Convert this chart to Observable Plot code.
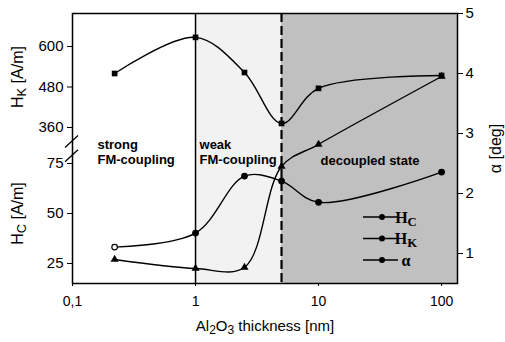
<!DOCTYPE html>
<html><head><meta charset="utf-8">
<script src="https://cdn.jsdelivr.net/npm/d3@7"></script>
<script src="https://cdn.jsdelivr.net/npm/@observablehq/plot@0.6"></script>
<style>
html,body{margin:0;padding:0;background:#fff;}
#chart svg{display:block;}
</style></head><body><div id="chart"></div>
<script>
// ---- data ----
const thickness = [0.22, 1, 2.5, 5, 10, 100];          // Al2O3 thickness [nm]
const hk = [520, 627, 523, 372, 476, 514];              // H_K [A/m]
const hc = [33.2, 40.2, 68.7, 66.2, 55.6, 70.7];        // H_C [A/m]
const alpha = [0.9, 0.75, 0.77, 2.45, 2.82, 3.95];      // α [deg]
const hkTicks = [360, 480, 600];
const hcTicks = [25, 50, 75];
const alphaTicks = [1, 2, 3, 4, 5];
const xTicks = [0.1, 1, 10, 100];
const xTickLabels = ["0,1", "1", "10", "100"];
const regionBounds = [0.1, 1, 5, 134.7];
const regionLabels = ["strong\nFM-coupling", "weak\nFM-coupling", "decoupled state"];
const legendLabels = ["H_C", "H_K", "α"];

// broken left axis: map H_K and H_C onto the α (right) axis scale
const hkPos = d3.scaleLinear([360, 600], [3.1, 4.45]);
const hcPos = d3.scaleLinear([25, 75], [0.833, 2.5]);

const rows = thickness.map((t, i) => ({t, hk: hk[i], hc: hc[i], alpha: alpha[i], i}));
const regions = regionLabels.map((label, i) => ({from: regionBounds[i], to: regionBounds[i + 1], label}));

const lineStyle = {stroke: "#000", strokeWidth: 1.4, curve: "catmull-rom"};
const textFont = {fontFamily: "Arial, 'Liberation Sans', sans-serif", fontWeight: "bold", fontSize: 13, fill: "#000"};

const plot = Plot.plot({
  width: 505, height: 342,
  marginLeft: 72, marginRight: 48, marginTop: 13, marginBottom: 59,
  style: {fontFamily: "Arial, 'Liberation Sans', sans-serif", fontSize: "14px", color: "#000", background: "#fff", overflow: "visible"},
  x: {type: "log", domain: [regionBounds[0], regionBounds[3]], axis: null},
  y: {domain: [0.5, 5], axis: null},
  marks: [
    Plot.rect([regions[1]], {x1: "from", x2: "to", fill: "#f2f2f2"}),
    Plot.rect([regions[2]], {x1: "from", x2: "to", fill: "#c0c0c0"}),
    Plot.ruleX([regionBounds[1]], {stroke: "#000", strokeWidth: 1.5}),
    Plot.ruleX([regionBounds[2]], {stroke: "#000", strokeWidth: 2.2, strokeDasharray: "9,4"}),
    // region labels
    Plot.text([regions[0]], {x: "from", text: "label", frameAnchor: "top", textAnchor: "start", lineAnchor: "middle", lineHeight: 1.2, dx: 25, dy: 138, ...textFont}),
    Plot.text([regions[1]], {x: "from", text: "label", frameAnchor: "top", textAnchor: "start", lineAnchor: "middle", lineHeight: 1.2, dx: 4, dy: 138, ...textFont}),
    Plot.text([regions[2]], {x: "from", text: "label", frameAnchor: "top", textAnchor: "start", lineAnchor: "middle", dx: 39, dy: 147, ...textFont}),
    // curves
    Plot.line(rows, {x: "t", y: d => hkPos(d.hk), ...lineStyle}),
    Plot.line(rows, {x: "t", y: d => hcPos(d.hc), ...lineStyle}),
    Plot.line(rows, {x: "t", y: "alpha", ...lineStyle}),
    Plot.dot(rows, {x: "t", y: d => hkPos(d.hk), symbol: "square", r: 3.2, fill: "#000"}),
    Plot.dot(rows, {x: "t", y: d => hcPos(d.hc), symbol: "circle", r: 2.8, fill: d => d.i === 0 ? "white" : "black", stroke: "#000", strokeWidth: 1.2}),
    Plot.dot(rows, {x: "t", y: "alpha", symbol: "triangle", r: 3, fill: "#000"}),
    // axes
    Plot.axisX(xTicks, {tickFormat: d => xTickLabels[xTicks.indexOf(d)], tickSize: 3, tickPadding: 10, fontSize: 14, label: null}),
    Plot.axisY(alphaTicks, {anchor: "right", tickFormat: d => String(d), tickSize: 5, tickPadding: 3, fontSize: 15, label: null}),
    Plot.axisY(hkTicks.map(hkPos), {anchor: "left", tickFormat: d => Math.round(hkPos.invert(d)), tickSize: 5, tickPadding: 4, fontSize: 15, label: null}),
    Plot.axisY(hcTicks.map(hcPos), {anchor: "left", tickFormat: d => Math.round(hcPos.invert(d)), tickSize: 5, tickPadding: 4, fontSize: 15, label: null}),
    Plot.frame({stroke: "#000", strokeWidth: 1.5}),
    // axis titles
    Plot.text(["H_K [A/m]"], {y: () => hkPos(d3.mean(hkTicks)), frameAnchor: "left", textAnchor: "middle", lineAnchor: "middle", dx: -55, dy: -10, rotate: -90, fontSize: 16}),
    Plot.text(["H_C [A/m]"], {y: () => hcPos(d3.mean(hcTicks)), frameAnchor: "left", textAnchor: "middle", lineAnchor: "middle", dx: -55, rotate: -90, fontSize: 16}),
    Plot.text(["α [deg]"], {frameAnchor: "right", textAnchor: "middle", lineAnchor: "middle", dx: 38, rotate: -90, fontSize: 16}),
    Plot.text(["Al_2O_3 thickness [nm]"], {frameAnchor: "bottom", textAnchor: "middle", lineAnchor: "middle", dy: 43, fontSize: 15})
  ]
});

const svg = d3.select(plot);
const yS = plot.scale("y"), xS = plot.scale("x");
const left = xS.range[0], right = xS.range[1];

// break marks on the left axis
const yTop = yS.apply(hkPos(hkTicks[0])), yBot = yS.apply(hcPos(hcTicks[2]));
[0.4, 0.8].forEach(f => {
  const yy = yTop + (yBot - yTop) * f;
  svg.append("line").attr("x1", left - 7).attr("x2", left + 6).attr("y1", yy + 6).attr("y2", yy - 6)
    .attr("stroke", "#000").attr("stroke-width", 1.3);
});

// legend
const legendG = svg.append("g").attr("font-family", "'Liberation Serif', 'Times New Roman', serif").attr("font-weight", "bold").attr("font-size", 16);
legendLabels.forEach((lab, i) => {
  const yy = 217 + i * 21.5;
  legendG.append("line").attr("x1", right - 94).attr("x2", right - 59).attr("y1", yy).attr("y2", yy).attr("stroke", "#000").attr("stroke-width", 1.4);
  legendG.append("circle").attr("cx", right - 75).attr("cy", yy).attr("r", 3).attr("fill", "#000");
  legendG.append("text").attr("x", right - 51).attr("y", yy).attr("dy", "0.35em").text(lab);
});

// subscripts: "_X" -> subscript tspan
svg.selectAll("text").each(function () {
  const el = this;
  if (el.children.length) return;
  const s = el.textContent;
  if (!s.includes("_")) return;
  el.textContent = "";
  const parts = s.split(/(_.)/);
  parts.forEach(p => {
    if (!p) return;
    const ts = d3.select(el).append("tspan");
    if (p[0] === "_") ts.attr("baseline-shift", "-25%").attr("font-size", "80%").text(p[1]);
    else ts.text(p);
  });
});

document.getElementById("chart").appendChild(plot);
</script></body></html>
